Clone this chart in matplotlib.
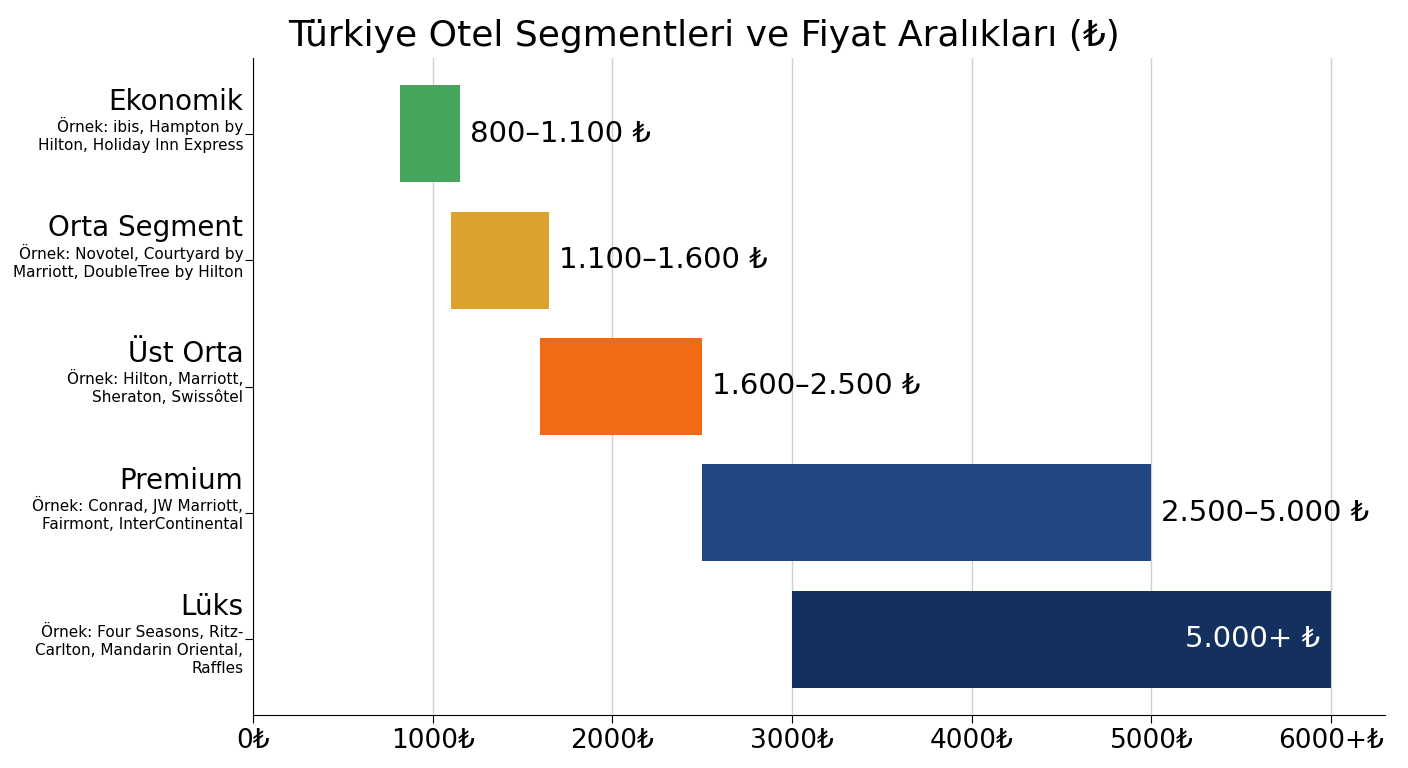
import matplotlib.pyplot as plt

segments = ["Ekonomik", "Orta Segment", "Üst Orta", "Premium", "Lüks"]
examples = [
    "Örnek: ibis, Hampton by\nHilton, Holiday Inn Express",
    "Örnek: Novotel, Courtyard by\nMarriott, DoubleTree by Hilton",
    "Örnek: Hilton, Marriott,\nSheraton, Swissôtel",
    "Örnek: Conrad, JW Marriott,\nFairmont, InterContinental",
    "Örnek: Four Seasons, Ritz-\nCarlton, Mandarin Oriental,\nRaffles",
]
starts = [820, 1100, 1600, 2500, 3000]
ends = [1150, 1650, 2500, 5000, 6000]
range_labels = ["800–1.100 ₺", "1.100–1.600 ₺", "1.600–2.500 ₺", "2.500–5.000 ₺", "5.000+ ₺"]
colors = ["#45a55a", "#dca22e", "#f26a16", "#234785", "#13305f"]
xticks = [0, 1000, 2000, 3000, 4000, 5000, 6000]
xtick_labels = ["0₺", "1000₺", "2000₺", "3000₺", "4000₺", "5000₺", "6000+₺"]

fig = plt.figure(figsize=(14.08, 7.68), dpi=100)
ax = fig.add_axes([253 / 1408, 1 - 715 / 768, (1385 - 253) / 1408, (715 - 58) / 768])

ypos = list(range(len(segments)))[::-1]
widths = [e - s for s, e in zip(starts, ends)]
ax.barh(ypos, widths, left=starts, height=0.77, color=colors, zorder=3)

for i, (y, e, lab) in enumerate(zip(ypos, ends, range_labels)):
    if i == len(segments) - 1:
        ax.text(e - 60, y, lab, ha="right", va="center", fontsize=21, color="white", zorder=4)
    else:
        ax.text(e + 55, y, lab, ha="left", va="center", fontsize=21, color="black", zorder=4)

ax.set_xlim(0, 6300)
ax.set_ylim(-0.6, 4.6)
ax.set_yticks(ypos)
ax.set_yticklabels([])
ax.set_xticks(xticks)
ax.set_xticklabels(xtick_labels, fontsize=19)
ax.tick_params(axis="x", length=6)
ax.tick_params(axis="y", length=6)
ax.grid(axis="x", color="#d0d0d0", linewidth=1, zorder=0)
for s in ["top", "right"]:
    ax.spines[s].set_visible(False)

for y, name, ex in zip(ypos, segments, examples):
    ax.annotate(name, xy=(0, y), xycoords=("axes fraction", "data"), xytext=(-7, 13),
                textcoords="offset points", ha="right", va="bottom", fontsize=20)
    ax.annotate(ex, xy=(0, y), xycoords=("axes fraction", "data"), xytext=(-7, 12),
                textcoords="offset points", ha="right", va="top", fontsize=11, linespacing=1.25)

fig.suptitle("Türkiye Otel Segmentleri ve Fiyat Aralıkları (₺)", fontsize=26, y=0.975)
fig.savefig("out.png", dpi=100)
